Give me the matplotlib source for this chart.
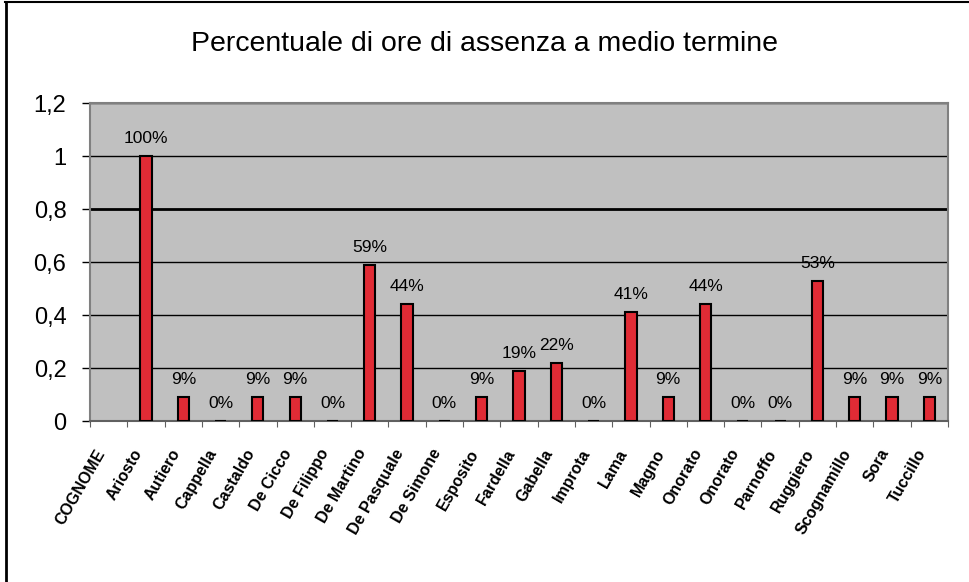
import numpy as np
import matplotlib.pyplot as plt
from matplotlib.lines import Line2D
from matplotlib.transforms import ScaledTranslation

plt.rcParams['font.family'] = ['Liberation Sans', 'DejaVu Sans']

# cognomi e percentuale di ore di assenza (COGNOME e' l'intestazione, senza valore)
cognomi = ['COGNOME', 'Ariosto', 'Autiero', 'Cappella', 'Castaldo', 'De Cicco',
           'De Filippo', 'De Martino', 'De Pasquale', 'De Simone', 'Esposito',
           'Fardella', 'Gabella', 'Improta', 'Lama', 'Magno', 'Onorato', 'Onorato',
           'Parnoffo', 'Ruggiero', 'Scognamillo', 'Sora', 'Tuccillo']
assenze = [None, 1.00, 0.09, 0.00, 0.09, 0.09, 0.00, 0.59, 0.44, 0.00, 0.09,
           0.19, 0.22, 0.00, 0.41, 0.09, 0.44, 0.00, 0.00, 0.53, 0.09, 0.09, 0.09]
yticks = [0, 0.2, 0.4, 0.6, 0.8, 1.0, 1.2]

fig = plt.figure(figsize=(9.7, 5.82), dpi=100)
ax = fig.add_axes([0.0928, 0.2766, 0.8845, 0.5464])

# cornice esterna del grafico (solo lato alto e sinistro visibili)
fig.add_artist(Line2D([0.005, 1.0], [0.996, 0.996], transform=fig.transFigure,
                      color='black', lw=1.5))
fig.add_artist(Line2D([0.0057, 0.0057], [0.0, 0.996], transform=fig.transFigure,
                      color='black', lw=2))

x = np.arange(len(cognomi))
ax.set_facecolor('#c0c0c0')
for xi, v in zip(x, assenze):
    if v is None:
        continue
    ax.bar(xi, v, width=0.3, color='#e02b35', edgecolor='black', linewidth=1.5, zorder=3)
    ax.annotate(f'{v * 100:.0f}%', (xi, v), xytext=(0, 10), textcoords='offset pixels',
                ha='center', va='bottom', fontsize=12.5, zorder=4)

ax.set_xlim(-0.5, len(cognomi) - 0.5)
ax.set_ylim(0, 1.2)
ax.set_yticks(yticks)
ax.set_yticklabels([f'{t:g}'.replace('.', ',') for t in yticks], fontsize=17)
ax.yaxis.grid(True, color='black', lw=1, zorder=1)
for gl, t in zip(ax.get_ygridlines(), yticks):
    if t == 0.8:
        gl.set_linewidth(2)
ax.set_axisbelow(True)
ax.tick_params(axis='y', length=6, width=1, color='black', pad=11)

# tacche tra le categorie, etichette ruotate al centro
ax.set_xticks(np.arange(len(cognomi) + 1) - 0.5)
ax.set_xticklabels([])
ax.set_xticks(x, minor=True)
ax.set_xticklabels(cognomi, minor=True, rotation=60, ha='right', va='center',
                   rotation_mode='anchor', fontsize=11.5, fontweight='bold')
ax.tick_params(axis='x', which='major', length=4, color='#606060')
ax.tick_params(axis='x', which='minor', length=0, pad=21)
shift = ScaledTranslation(-7 / 100, 0, fig.dpi_scale_trans)
for lab in ax.get_xticklabels(minor=True):
    lab.set_transform(lab.get_transform() + shift)

for s in ax.spines.values():
    s.set_color('#808080')
    s.set_linewidth(1.5)
ax.spines['bottom'].set_color('#606060')

fig.text(0.5, 0.925, 'Percentuale di ore di assenza a medio termine',
         ha='center', va='center', fontsize=20.5)

fig.savefig('out.png', dpi=100)
